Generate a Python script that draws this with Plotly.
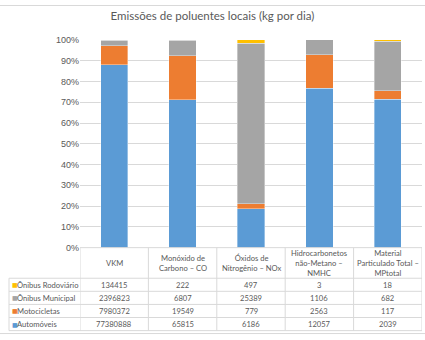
import plotly.graph_objects as go

categories = ["VKM", "Monóxido de<br>Carbono – CO", "Óxidos de<br>Nitrogênio – NOx",
              "Hidrocarbonetos<br>não-Metano –<br>NMHC", "Material<br>Particulado Total –<br>MPtotal"]
series_names = ["Ônibus Rodoviário", "Ônibus Municipal", "Motocicletas", "Automóveis"]
onibus_rodoviario = [134415, 222, 497, 3, 18]
onibus_municipal = [2396823, 6807, 25389, 1106, 682]
motocicletas = [7980372, 19549, 779, 2563, 117]
automoveis = [77380888, 65815, 6186, 12057, 2039]
colors = {"Automóveis": "#5B9BD5", "Motocicletas": "#ED7D31",
          "Ônibus Municipal": "#A5A5A5", "Ônibus Rodoviário": "#FFC000"}
series = {"Ônibus Rodoviário": onibus_rodoviario, "Ônibus Municipal": onibus_municipal,
          "Motocicletas": motocicletas, "Automóveis": automoveis}

W, H = 425, 340
FONT = "Lato"
TXT = "#595959"
GRID = "#D9D9D9"
TFS = 7.6  # table font size

fig = go.Figure()
xs = list(range(len(categories)))
for name in ["Automóveis", "Motocicletas", "Ônibus Municipal", "Ônibus Rodoviário"]:
    fig.add_trace(go.Bar(x=xs, y=series[name], name=name,
                         marker=dict(color=colors[name], line=dict(width=0.6, color="rgba(255,255,255,0.6)")),
                         showlegend=False))

def py(p):  # pixel y (from top) -> paper
    return 1 - p / H

def px(p):
    return p / W

# table geometry (pixels)
t_top, h_bot = 250, 281.5
row_h = 13.5
row_edges = [h_bot + i * row_h for i in range(len(series_names) + 1)]
t_bot = row_edges[-1]
left_edge = 9

shapes = []
line = dict(color=GRID, width=1)
# horizontal lines
shapes.append(dict(type="line", xref="x", yref="paper", x0=-0.5, x1=len(categories) - 0.5,
                   y0=py(t_top), y1=py(t_top), line=line))
for ye in row_edges:
    shapes.append(dict(type="line", xref="paper", yref="paper", x0=px(left_edge), x1=px(422),
                       y0=py(ye), y1=py(ye), line=line))
# vertical lines
shapes.append(dict(type="line", xref="paper", yref="paper", x0=px(left_edge), x1=px(left_edge),
                   y0=py(h_bot), y1=py(t_bot), line=line))
for k in range(len(categories) + 1):
    shapes.append(dict(type="line", xref="x", yref="paper", x0=k - 0.5, x1=k - 0.5,
                       y0=py(t_top), y1=py(t_bot), line=line))
# outer border lines
shapes.append(dict(type="line", xref="paper", yref="paper", x0=0, x1=1, y0=py(0.5), y1=py(0.5), line=line))
shapes.append(dict(type="line", xref="paper", yref="paper", x0=0, x1=1, y0=py(338.5), y1=py(338.5), line=line))

annotations = []
tfont = dict(family=FONT, size=TFS, color=TXT)
for i, cat in enumerate(categories):
    annotations.append(dict(x=i, xref="x", y=py((t_top + h_bot) / 2), yref="paper", text=cat,
                            showarrow=False, xanchor="center", yanchor="middle", font=tfont,
                            align="center"))
for r, name in enumerate(series_names):
    yc = py((row_edges[r] + row_edges[r + 1]) / 2)
    annotations.append(dict(x=px(10), xref="paper", y=yc, yref="paper", text="■",
                            showarrow=False, xanchor="left", yanchor="middle",
                            font=dict(family="DejaVu Sans", size=6, color=colors[name])))
    annotations.append(dict(x=px(15), xref="paper", y=yc, yref="paper", text=name,
                            showarrow=False, xanchor="left", yanchor="middle", font=tfont))
    for i in range(len(categories)):
        annotations.append(dict(x=i, xref="x", y=yc, yref="paper", text=str(series[name][i]),
                                showarrow=False, xanchor="center", yanchor="middle", font=tfont))

fig.update_layout(
    width=W, height=H,
    margin=dict(l=0, r=0, t=0, b=0),
    paper_bgcolor="white", plot_bgcolor="white",
    barmode="stack", barnorm="fraction", bargap=0.6,
    title=dict(text="Emissões de poluentes locais (kg por dia)", x=0.5, xanchor="center",
               y=py(16), yanchor="middle",
               font=dict(family=FONT, size=11.5, color=TXT)),
    xaxis=dict(domain=[px(80), px(422)], range=[-0.5, 4.5], showticklabels=False,
               showgrid=False, zeroline=False, showline=False, fixedrange=True),
    yaxis=dict(domain=[py(250), py(36)], range=[0, 1], dtick=0.1,
               tickformat=".0%", showgrid=True, gridcolor=GRID, gridwidth=1,
               zeroline=False, showline=False, ticks="",
               tickfont=dict(family="Liberation Sans", size=9, color=TXT)),
    shapes=shapes,
    annotations=annotations,
)

fig.write_html("out.html")
